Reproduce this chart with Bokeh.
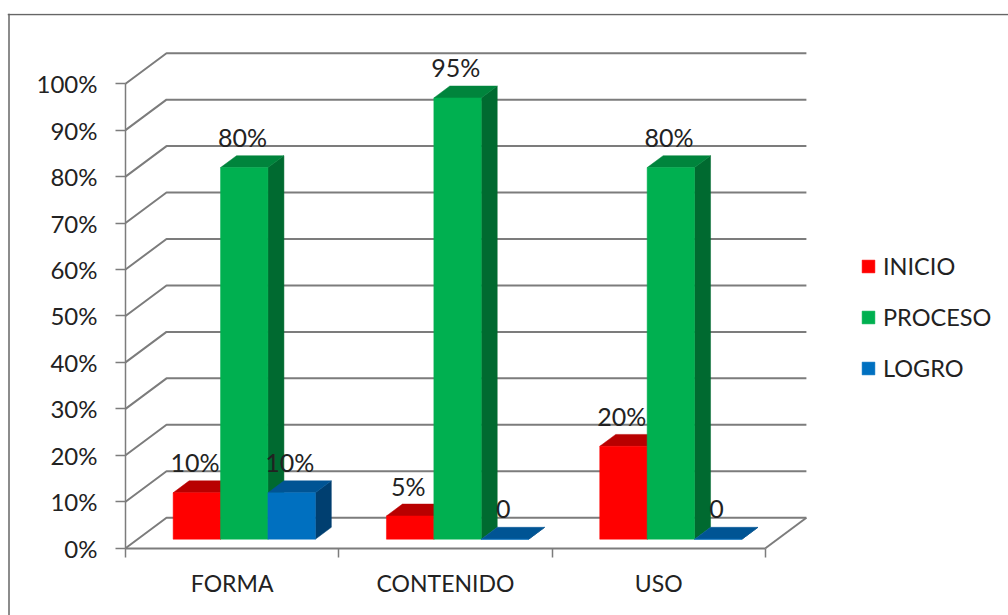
from bokeh.plotting import figure
from bokeh.models import (Range1d, FixedTicker, PrintfTickFormatter, ColumnDataSource,
                          Legend, LegendItem, LinearAxis, Span)
from bokeh.core.properties import value
from bokeh.embed import file_html
from bokeh.resources import INLINE

categories = ["FORMA", "CONTENIDO", "USO"]
inicio = [10, 5, 20]
proceso = [80, 95, 80]
logro = [10, 0, 0]
y_ticks = [0, 10, 20, 30, 40, 50, 60, 70, 80, 90, 100]

FONT = "Lato"
PX_X = 213.3      # pixels per category
PX_Y = 4.645      # pixels per percent
W, H = 1008, 615
F_L, F_T = 7, 13  # frame corner in pixels
X0, Y0 = 125, 547.7  # pixel position of the chart origin
WALL_X, WALL_Y = 41 / PX_X, 30.5 / PX_Y   # floor depth in data units
D0, D1 = 0.295, 0.685                     # bar depth as a share of the floor depth
BAR_W = 2 / 9
GRID = "#7c7c7c"
TEXT = "#222222"

p = figure(width=W, height=H, output_backend="svg", toolbar_location=None,
           x_range=Range1d((F_L - X0) / PX_X, (W - X0) / PX_X),
           y_range=Range1d((Y0 - H) / PX_Y, (Y0 - F_T) / PX_Y),
           x_axis_type=None, y_axis_type=None,
           min_border_left=F_L, min_border_right=0, min_border_top=F_T, min_border_bottom=0)
p.grid.visible = False
p.outline_line_color = None
p.background_fill_color = "white"
p.border_fill_color = "white"

# chart-area border
p.add_layout(Span(location=(8.5 - X0) / PX_X, dimension="height", line_color="#666666", line_width=1.5))
p.add_layout(Span(location=(Y0 - 14) / PX_Y, dimension="width", line_color="#666666", line_width=1.5))

yax = LinearAxis(ticker=FixedTicker(ticks=y_ticks), formatter=PrintfTickFormatter(format="%d%%"),
                 bounds=(0, 100), fixed_location=0)
yax.axis_line_color = GRID
yax.axis_line_width = 1.5
yax.major_tick_line_color = GRID
yax.major_tick_line_width = 1.5
yax.major_tick_out = 10
yax.major_tick_in = 0
yax.minor_tick_line_color = None
yax.major_label_standoff = 18
yax.major_label_text_font = FONT
yax.major_label_text_font_size = "24px"
yax.major_label_text_color = TEXT
p.add_layout(yax, "left")

xax = LinearAxis(ticker=FixedTicker(ticks=[i + 0.5 for i in range(len(categories))],
                                    minor_ticks=list(range(len(categories) + 1))),
                 bounds=(0, len(categories)), fixed_location=0)
xax.major_label_overrides = {i + 0.5: c for i, c in enumerate(categories)}
xax.axis_line_color = GRID
xax.axis_line_width = 2
xax.major_tick_line_color = None
xax.major_tick_out = 0
xax.major_tick_in = 0
xax.minor_tick_line_color = GRID
xax.minor_tick_line_width = 1.5
xax.minor_tick_out = 9
xax.minor_tick_in = 0
xax.major_label_standoff = 12
xax.major_label_text_font = FONT
xax.major_label_text_font_size = "23px"
xax.major_label_text_color = TEXT
p.add_layout(xax, "below")

# walls: slanted and back gridlines
n = len(categories)
gx = [[0, WALL_X, n + WALL_X] for _ in y_ticks]
gy = [[t, t + WALL_Y, t + WALL_Y] for t in y_ticks]
p.multi_line(gx, gy, line_color=GRID, line_width=2)
p.line([n, n + WALL_X], [0, WALL_Y], line_color=GRID, line_width=2)

series = [
    ("INICIO", inicio, "#ff0000", "#b80000", "#8a0000", 0),
    ("PROCESO", proceso, "#00b050", "#00843c", "#006a30", 1),
    ("LOGRO", logro, "#0070c0", "#005494", "#003f70", 2),
]
legend_items = []
lab_x, lab_y, lab_t = [], [], []
for name, vals, front, top, side, k in series:
    left = [i + 1 / 6 + k * BAR_W + D0 * WALL_X for i in range(n)]
    right = [l + BAR_W for l in left]
    base = D0 * WALL_Y
    tops = [v + base for v in vals]
    ddx = (D1 - D0) * WALL_X
    ddy = (D1 - D0) * WALL_Y
    top_x = [[l, l + ddx, r + ddx, r] for l, r in zip(left, right)]
    top_y = [[t, t + ddy, t + ddy, t] for t in tops]
    side_x = [[r, r + ddx, r + ddx, r] for r in right]
    side_y = [[base, base + ddy, t + ddy, t] for t in tops]
    p.patches(side_x, side_y, fill_color=side, line_color=side, line_width=0.5)
    p.patches(top_x, top_y, fill_color=top, line_color=top, line_width=0.5)
    src = ColumnDataSource(dict(left=left, right=right, top=tops, bottom=[base] * n))
    bars = p.quad(left="left", right="right", top="top", bottom="bottom", source=src,
                  fill_color=front, line_color=front, line_width=0.5)
    legend_items.append(LegendItem(label=value(name), renderers=[bars]))
    for l, r, v, t in zip(left, right, vals, tops):
        lab_x.append((l + r) / 2 - 1.8 / PX_X)
        lab_y.append(t + ddy + 4.0)
        lab_t.append(f"{v}%" if v else "0")

p.text(lab_x, lab_y, text=lab_t, text_align="center", text_baseline="alphabetic",
       text_font=value(FONT), text_font_size="25px", text_color=TEXT)

legend = Legend(items=legend_items, location=(853, 233), orientation="vertical",
                glyph_width=16, glyph_height=16, label_standoff=7, spacing=23,
                padding=0, margin=0, label_height=16, border_line_color=None,
                background_fill_alpha=0, label_text_font=FONT, label_text_font_size="23.5px",
                label_text_color=TEXT, label_text_baseline="middle")
p.add_layout(legend, "center")

open("out.html", "w").write(file_html(p, INLINE))
